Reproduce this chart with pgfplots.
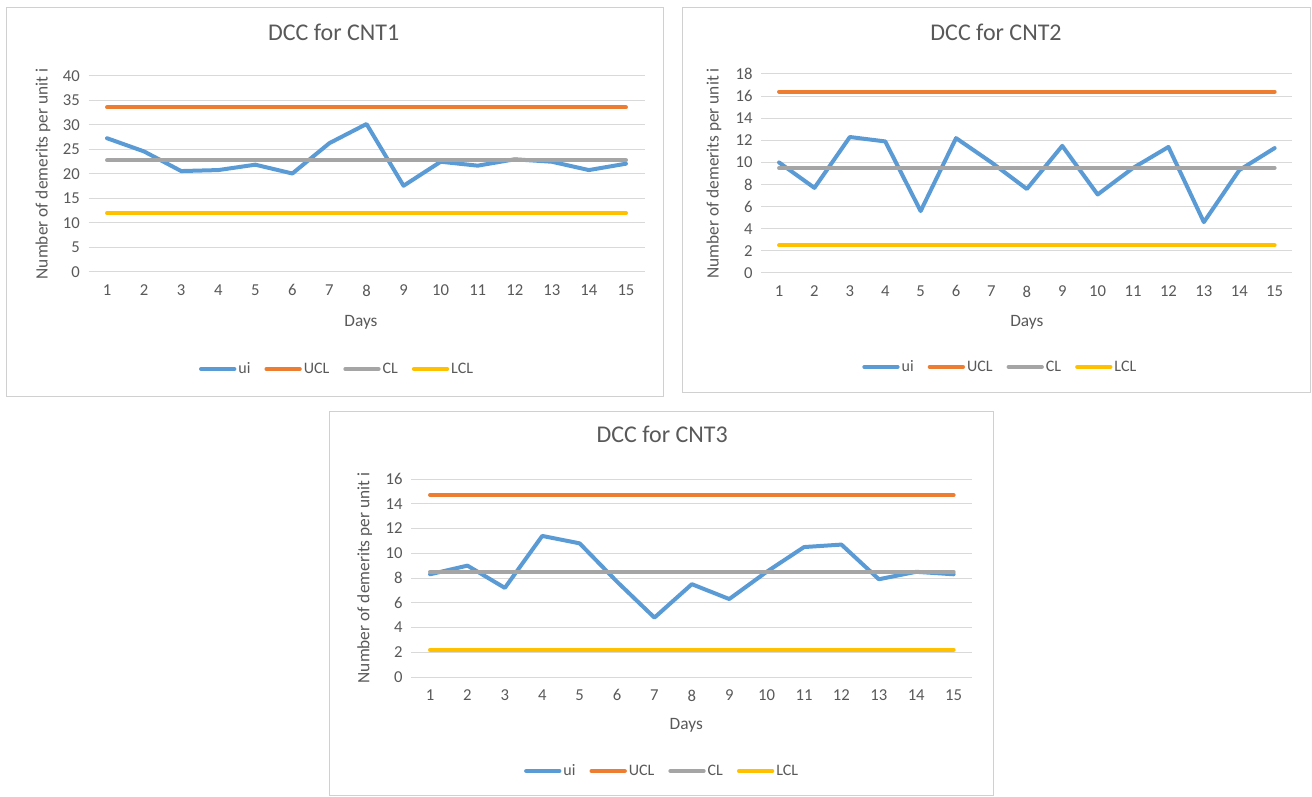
\documentclass[border=0pt]{standalone}
\usepackage{pgfplots}
\pgfplotsset{compat=1.18}
\usepackage{fontspec}
\setmainfont{Carlito}
\definecolor{cui}{HTML}{5B9BD5}
\definecolor{cucl}{HTML}{ED7D31}
\definecolor{ccl}{HTML}{A5A5A5}
\definecolor{clcl}{HTML}{FFC000}
\definecolor{gridc}{HTML}{D9D9D9}
\definecolor{textc}{HTML}{595959}
\definecolor{framec}{HTML}{D0D0D0}
\pgfplotsset{
  dcc/.style={
    scale only axis,
    xmin=0.5, xmax=15.5, xtick={1,...,15}, ymin=0,
    axis line style={draw=none},
    tick style={draw=none},
    ymajorgrids,
    grid style={color=gridc, line width=0.75pt},
    /pgf/number format/assume math mode=true,
    tick label style={font=\fontsize{12.5}{14}\selectfont, text=textc},
    xticklabel style={yshift=-6pt},
    yticklabel style={xshift=-3pt},
    label style={font=\fontsize{13}{15}\selectfont, text=textc},
    title style={font=\fontsize{18}{21}\selectfont, text=textc, anchor=center},
    xlabel=Days,
    ylabel={Number of demerits per unit i},
    legend columns=4,
    legend style={draw=none, fill=none, font=\fontsize{12}{14}\selectfont,
      text=textc, anchor=center,
      nodes={inner xsep=1.5pt},
      /tikz/every even column/.append style={column sep=9pt}},
    legend image code/.code={\draw[#1,line width=3pt,line cap=round] (0pt,0pt)--(25pt,0pt);},
    every axis plot/.append style={line width=3pt, line cap=round, line join=round, mark=none},
    clip=false,
  }
}
\begin{document}
\begin{tikzpicture}
\useasboundingbox (0pt,0pt) rectangle (984pt,597pt);
% frames
\draw[framec, line width=0.75pt] (4.5pt,299.25pt) rectangle (497.25pt,591pt);
\draw[framec, line width=0.75pt] (511.5pt,302.25pt) rectangle (982.5pt,591pt);
\draw[framec, line width=0.75pt] (246.75pt,0.4pt) rectangle (744.75pt,288pt);

% Panel 1
\begin{axis}[dcc, at={(66.375pt,393pt)}, anchor=south west,
  width=417pt, height=147pt, ymax=40, ytick={0,5,...,40},
  title={DCC for CNT1},
  title style={at={(axis description cs:0.441,1.184)}},
  xlabel style={at={(axis description cs:0.49,-0.255)}, anchor=center},
  ylabel style={at={(axis description cs:-0.082,0.5)}, anchor=center},
  legend style={at={(axis description cs:0.447,-0.495)}}]
\addplot[cui] coordinates {(1,27.3) (2,24.6) (3,20.6) (4,20.8) (5,21.9) (6,20.1) (7,26.3) (8,30.2) (9,17.6) (10,22.5) (11,21.7) (12,23.0) (13,22.5) (14,20.8) (15,22.1)};
\addplot[cucl] coordinates {(1,33.6) (15,33.6)};
\addplot[ccl] coordinates {(1,22.8) (15,22.8)};
\addplot[clcl] coordinates {(1,12.0) (15,12.0)};
\legend{ui,UCL,CL,LCL}
\end{axis}

% Panel 2
\begin{axis}[dcc, at={(571pt,392.25pt)}, anchor=south west,
  width=398.25pt, height=149.25pt, ymax=18, ytick={0,2,...,18},
  title={DCC for CNT2},
  title style={at={(axis description cs:0.442,1.171)}},
  xlabel style={at={(axis description cs:0.5,-0.246)}, anchor=center},
  ylabel style={at={(axis description cs:-0.089,0.5)}, anchor=center},
  legend style={at={(axis description cs:0.45,-0.472)}}]
\addplot[cui] coordinates {(1,10.0) (2,7.7) (3,12.3) (4,11.9) (5,5.6) (6,12.2) (7,10.0) (8,7.6) (9,11.5) (10,7.1) (11,9.5) (12,11.4) (13,4.6) (14,9.3) (15,11.3)};
\addplot[cucl] coordinates {(1,16.4) (15,16.4)};
\addplot[ccl] coordinates {(1,9.5) (15,9.5)};
\addplot[clcl] coordinates {(1,2.5) (15,2.5)};
\legend{ui,UCL,CL,LCL}
\end{axis}

% Panel 3
\begin{axis}[dcc, at={(308.5pt,89.25pt)}, anchor=south west,
  width=420.75pt, height=148.5pt, ymax=16, ytick={0,2,...,16},
  title={DCC for CNT3},
  title style={at={(axis description cs:0.447,1.187)}},
  xlabel style={at={(axis description cs:0.49,-0.242)}, anchor=center},
  ylabel style={at={(axis description cs:-0.083,0.5)}, anchor=center},
  legend style={at={(axis description cs:0.447,-0.475)}}]
\addplot[cui] coordinates {(1,8.3) (2,9.0) (3,7.2) (4,11.4) (5,10.8) (6,7.7) (7,4.8) (8,7.5) (9,6.3) (10,8.5) (11,10.5) (12,10.7) (13,7.9) (14,8.5) (15,8.3)};
\addplot[cucl] coordinates {(1,14.7) (15,14.7)};
\addplot[ccl] coordinates {(1,8.5) (15,8.5)};
\addplot[clcl] coordinates {(1,2.2) (15,2.2)};
\legend{ui,UCL,CL,LCL}
\end{axis}
\end{tikzpicture}
\end{document}
